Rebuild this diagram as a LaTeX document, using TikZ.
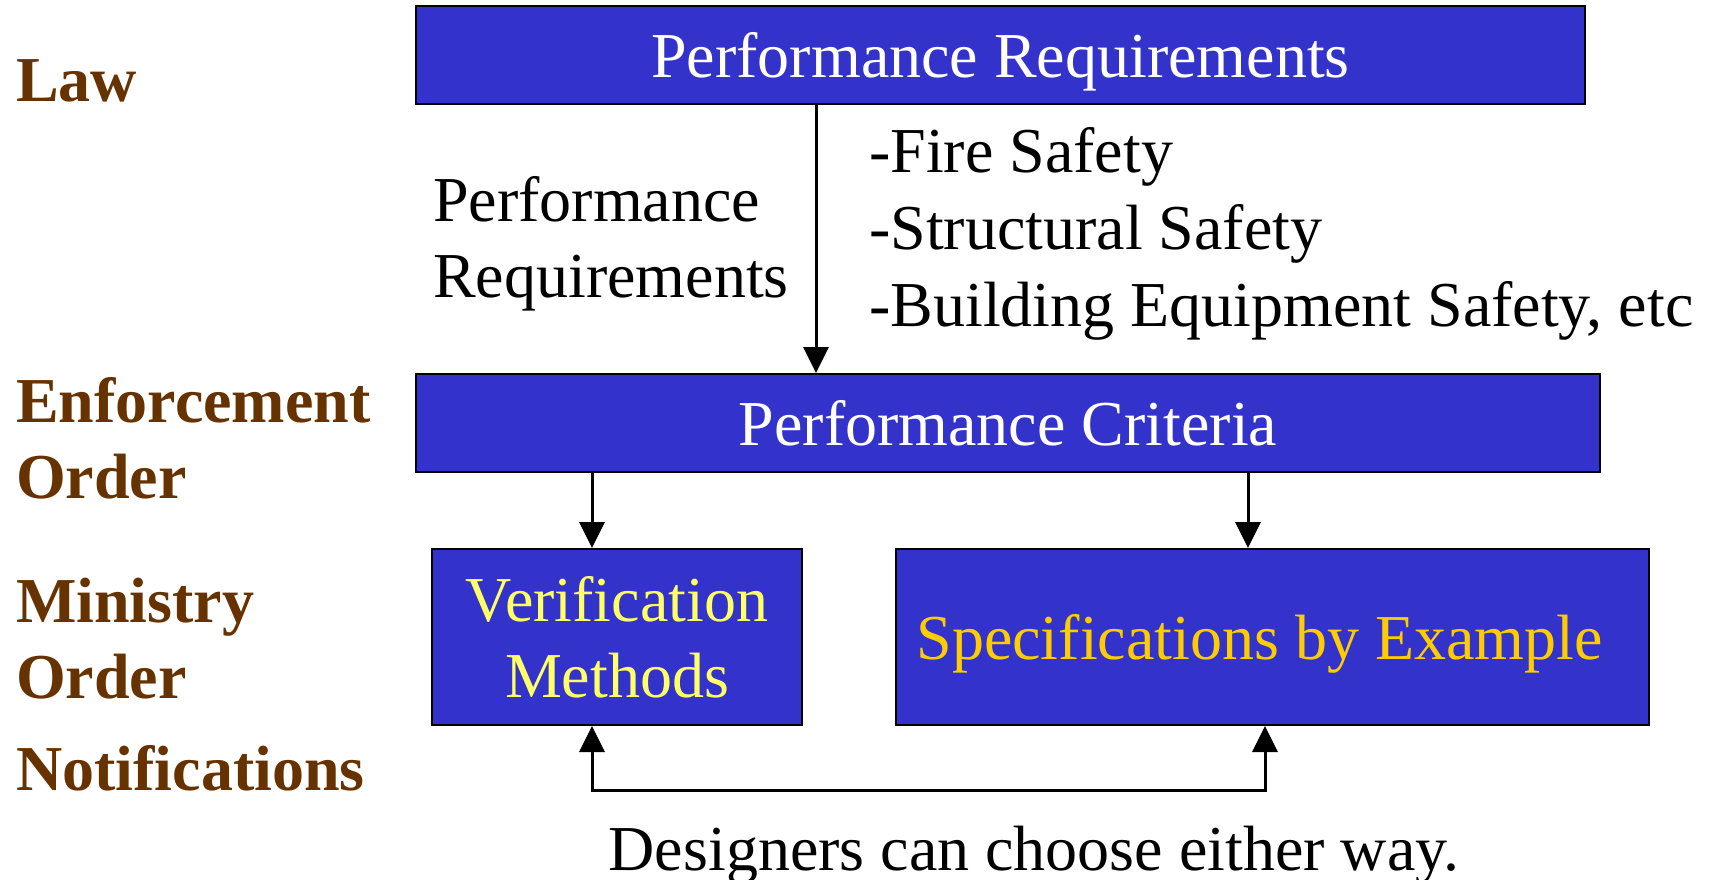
\documentclass[tikz,border=0pt]{standalone}
\usepackage{fontspec}
\setmainfont{Liberation Serif}
\usetikzlibrary{arrows.meta}
\definecolor{boxblue}{HTML}{3333CC}
\definecolor{labelbrown}{HTML}{663300}
\definecolor{vyellow}{HTML}{FFFF66}
\definecolor{sgold}{HTML}{FFCC00}
\begin{document}
\begin{tikzpicture}[x=1pt,y=-1pt,
  blk/.style={draw=black, line width=2pt, fill=boxblue, inner sep=0pt,
    font=\fontsize{64}{76}\selectfont},
  oneline/.style={text height=44pt, text depth=0pt},
  lvl/.style={anchor=base west, inner sep=0pt, text=labelbrown,
    font=\fontsize{64}{76}\selectfont\bfseries},
  txt/.style={anchor=base west, inner sep=0pt, font=\fontsize{64}{76}\selectfont},
  arr/.style={line width=3pt, -{Triangle[length=26pt,width=25pt]}},
  arrboth/.style={line width=3pt, {Triangle[length=26pt,width=25pt]}-{Triangle[length=26pt,width=25pt]}},
]
\useasboundingbox (0,0) rectangle (1709,880);

% boxes
\node[blk, oneline, text=white, minimum width=1169pt, minimum height=98pt] (pr) at (1000.5,55.5) {Performance Requirements};
\node[blk, oneline, text=white, minimum width=1184pt, minimum height=98pt] (pc) at (1008,423) {Performance Criteria};
\node[blk, text=vyellow, align=center, minimum width=370pt, minimum height=176pt] (vm) at (617,637) {Verification\\Methods};
\node[blk, oneline, text=sgold, minimum width=753pt, minimum height=176pt] (se) at (1272.5,637) {Specifications by Example\kern26pt};

% level labels
\node[lvl] (law) at (16,102) {Law};
\node[lvl] (enf) at (16,422) {Enforcement};
\node[lvl] (ord1) at (16,498) {Order};
\node[lvl] (min) at (16,622) {Ministry};
\node[lvl] (ord2) at (16,698) {Order};
\node[lvl] (not) at (16,790) {Notifications};

% side texts
\node[txt] (pl1) at (433,221) {Performance};
\node[txt] (pl2) at (433,297) {Requirements};
\node[txt] (f1) at (869,173) {-Fire Safety};
\node[txt] (f2) at (869,249) {-Structural Safety};
\node[txt] (f3) at (869,326) {-Building Equipment Safety, etc};
\node[txt, anchor=base] (des) at (1034,870) {Designers can choose either way.};

% connectors
\coordinate (a1) at (816,0);
\coordinate (a2) at (592,0);
\coordinate (a3) at (1248,0);
\coordinate (b1) at (592,790);
\coordinate (b2) at (1265,790);
\draw[arr] (pr.south -| a1) -- (pc.north -| a1);
\draw[arr] (pc.south -| a2) -- (vm.north -| a2);
\draw[arr] (pc.south -| a3) -- (se.north -| a3);
\draw[arrboth] (vm.south -| b1) -- (b1) -- (b2) -- (se.south -| b2);
\end{tikzpicture}
\end{document}
